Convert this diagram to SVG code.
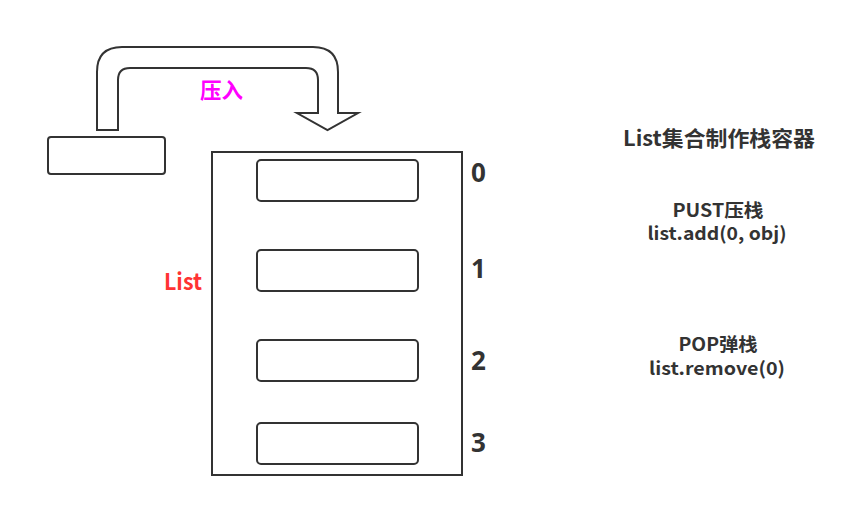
<svg xmlns="http://www.w3.org/2000/svg" width="861" height="508" viewBox="0 0 861 508">
<style>
.box{fill:#fff;stroke:#333;stroke-width:2}
.t{font-family:"Noto Sans CJK SC","Noto Sans",sans-serif;font-weight:bold;fill:#333}
.num{font-family:"Noto Sans","Open Sans",sans-serif;font-weight:bold;fill:#333;font-size:26px}
</style>
<rect width="861" height="508" fill="#fff"/>
<g id="connectors">
<path id="push-arrow" d="M97,130 L97,72 Q97,47 122,47 L313,47 Q338,47 338,72 L338,113 L358,113 L327.5,130 L297,113 L318,113 L318,80 Q318,68 306,68 L130,68 Q118,68 118,80 L118,130 Z" fill="#fff" stroke="#333" stroke-width="2" stroke-linejoin="miter"/>
<text class="t" x="221.5" y="98" font-size="21.5" style="fill:#f0f" text-anchor="middle">压入</text>
</g>
<g id="new-item"><rect class="box" x="48" y="137" width="117" height="37" rx="3"/></g>
<g id="list">
<rect class="box" x="212" y="152" width="250" height="323"/>
<text class="t" x="183" y="290" font-size="23" style="fill:#f33" text-anchor="middle" textLength="38" lengthAdjust="spacingAndGlyphs">List</text>
</g>
<g id="item0"><rect class="box" x="257" y="160" width="161" height="41" rx="4"/><text class="num" x="471" y="182">0</text></g>
<g id="item1"><rect class="box" x="257" y="250" width="161" height="41" rx="4"/><text class="num" x="471" y="278">1</text></g>
<g id="item2"><rect class="box" x="257" y="340" width="161" height="41" rx="4"/><text class="num" x="471" y="370">2</text></g>
<g id="item3"><rect class="box" x="257" y="423" width="161" height="41" rx="4"/><text class="num" x="471" y="452">3</text></g>
<g id="notes">
<text class="t" x="719" y="146" font-size="21" text-anchor="middle" textLength="192" lengthAdjust="spacingAndGlyphs">List集合制作栈容器</text>
<text class="t" x="718" y="217" font-size="18" text-anchor="middle" textLength="91" lengthAdjust="spacingAndGlyphs">PUST压栈</text>
<text class="t" x="717" y="239.5" font-size="18" text-anchor="middle" textLength="139" lengthAdjust="spacingAndGlyphs">list.add(0, obj)</text>
<text class="t" x="718" y="351" font-size="18" text-anchor="middle" textLength="79" lengthAdjust="spacingAndGlyphs">POP弹栈</text>
<text class="t" x="717" y="375" font-size="18" text-anchor="middle" textLength="136" lengthAdjust="spacingAndGlyphs">list.remove(0)</text>
</g>
</svg>
